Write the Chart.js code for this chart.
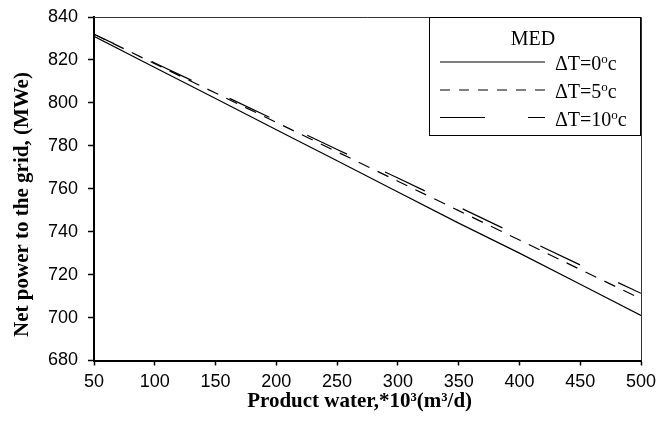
<!DOCTYPE html>
<html>
<head>
<meta charset="utf-8">
<script src="https://cdn.jsdelivr.net/npm/chart.js@4/dist/chart.umd.min.js"></script>
<style>
html,body{margin:0;padding:0;background:#fff;}
#wrap{width:670px;height:421px;}
</style>
</head>
<body>
<div id="wrap"><canvas id="c" width="670" height="421"></canvas></div>
<script>
// Data
const productWater = [50, 100, 150, 200, 250, 300, 350, 400, 450, 500];
const dT0  = [831, 816.5, 802, 787.5, 773, 758.5, 744, 730, 715.5, 701];
const dT5  = [832, 818.2, 804.6, 790.9, 777.2, 763.5, 749.8, 736.1, 722.4, 708.7];
const dT10 = [832, 818.6, 805.2, 791.8, 778.3, 765, 751.5, 738, 724.5, 711.3];
const seriesLabels = ['0', '5', '10'];
const legendTitle = 'MED';
const xTicks = [50, 100, 150, 200, 250, 300, 350, 400, 450, 500];
const yTicks = [680, 700, 720, 740, 760, 780, 800, 820, 840];

const dashes = [[], [12, 9], [44, 42]];
const dashOffsets = [0, 0, 22];
const legendDashes = [[], [10, 9], [45, 43]];

function pts(arr){ return productWater.map((x,i)=>({x:x, y:arr[i]})); }

const legendPlugin = {
  id: 'boxLegend',
  afterDraw(chart){
    const ctx = chart.ctx;
    const a = chart.chartArea;
    ctx.save();
    // top and right frame of plot area
    ctx.strokeStyle = '#333';
    ctx.lineWidth = 1;
    ctx.beginPath();
    ctx.moveTo(a.left, a.top + 0.5);
    ctx.lineTo(a.right + 0.5, a.top + 0.5);
    ctx.lineTo(a.right + 0.5, a.bottom);
    ctx.stroke();
    // legend box
    const bx = 429.5, by = 17.5, bw = 211, bh = 118;
    ctx.fillStyle = '#fff';
    ctx.fillRect(bx, by, bw, bh);
    ctx.strokeStyle = '#000';
    ctx.lineWidth = 1;
    ctx.strokeRect(bx, by, bw, bh);
    ctx.fillStyle = '#000';
    ctx.font = '20px "Liberation Serif", "Times New Roman", serif';
    ctx.textAlign = 'center';
    ctx.textBaseline = 'middle';
    ctx.fillText(legendTitle, 533, 40);
    const ys = [62, 90, 117.5];
    seriesLabels.forEach((lab, i) => {
      const y = ys[i];
      ctx.save();
      ctx.setLineDash(legendDashes[i]);
      ctx.lineWidth = 1.2;
      ctx.strokeStyle = '#000';
      ctx.beginPath();
      ctx.moveTo(440, y);
      ctx.lineTo(545, y);
      ctx.stroke();
      ctx.restore();
      ctx.textAlign = 'left';
      ctx.textBaseline = 'alphabetic';
      ctx.font = '20px "Liberation Serif", "Times New Roman", serif';
      let x = 555;
      const base = y + 8;
      const t1 = '\u0394T=' + lab;
      ctx.fillText(t1, x, base);
      x += ctx.measureText(t1).width;
      ctx.font = '13px "Liberation Serif", "Times New Roman", serif';
      ctx.fillText('o', x, base - 7);
      x += ctx.measureText('o').width;
      ctx.font = '20px "Liberation Serif", "Times New Roman", serif';
      ctx.fillText('c', x, base);
    });
    ctx.restore();
  }
};

const tickFont = {family: '"Liberation Sans", Arial, sans-serif', size: 18};
const xTitleFont = {family: '"Liberation Serif", "Times New Roman", serif', size: 21, weight: 'bold'};
const yTitleFont = {family: '"Liberation Serif", "Times New Roman", serif', size: 21, weight: 'bold'};

new Chart(document.getElementById('c'), {
  type: 'line',
  data: {
    datasets: [dT0, dT5, dT10].map((arr, i) => ({
      label: '\u0394T=' + seriesLabels[i] + '\u00b0c',
      data: pts(arr),
      borderColor: '#000',
      borderWidth: 1.2,
      borderDash: dashes[i],
      borderDashOffset: dashOffsets[i],
      pointRadius: 0,
      tension: 0,
      fill: false
    }))
  },
  options: {
    responsive: false,
    animation: false,
    devicePixelRatio: 1,
    layout: {padding: {top: 17, right: 29, left: 0, bottom: 0}},
    plugins: {legend: {display: false}, tooltip: {enabled: false}},
    scales: {
      x: {
        type: 'linear', min: 50, max: 500,
        afterBuildTicks(s){ s.ticks = xTicks.map(v => ({value: v})); },
        afterFit(s){ s.height = 60.5; s.paddingLeft = 0; s.paddingRight = 0; },
        grid: {drawOnChartArea: false, tickLength: 5, color: '#000', tickWidth: 1.5},
        border: {color: '#000', width: 2},
        ticks: {font: tickFont, color: '#000', padding: 6, maxRotation: 0},
        title: {display: true, text: 'Product water,*10\u00b3(m\u00b3/d)\u00a0\u00a0\u00a0', font: xTitleFont, color: '#000', padding: {top: 0, bottom: 7}}
      },
      y: {
        min: 680, max: 840,
        afterBuildTicks(s){ s.ticks = yTicks.map(v => ({value: v})); },
        afterFit(s){ s.width = 94; s.paddingTop = 0; s.paddingBottom = 0; },
        grid: {drawOnChartArea: false, tickLength: 6, color: '#000', tickWidth: 1.5},
        border: {color: '#000', width: 2},
        ticks: {font: tickFont, color: '#000', padding: 10},
        title: {display: true, text: 'Net power to the grid, (MWe)\u00a0\u00a0\u00a0\u00a0\u00a0\u00a0', font: yTitleFont, color: '#000', padding: {top: 10, bottom: 0}}
      }
    }
  },
  plugins: [legendPlugin]
});
</script>
</body>
</html>
